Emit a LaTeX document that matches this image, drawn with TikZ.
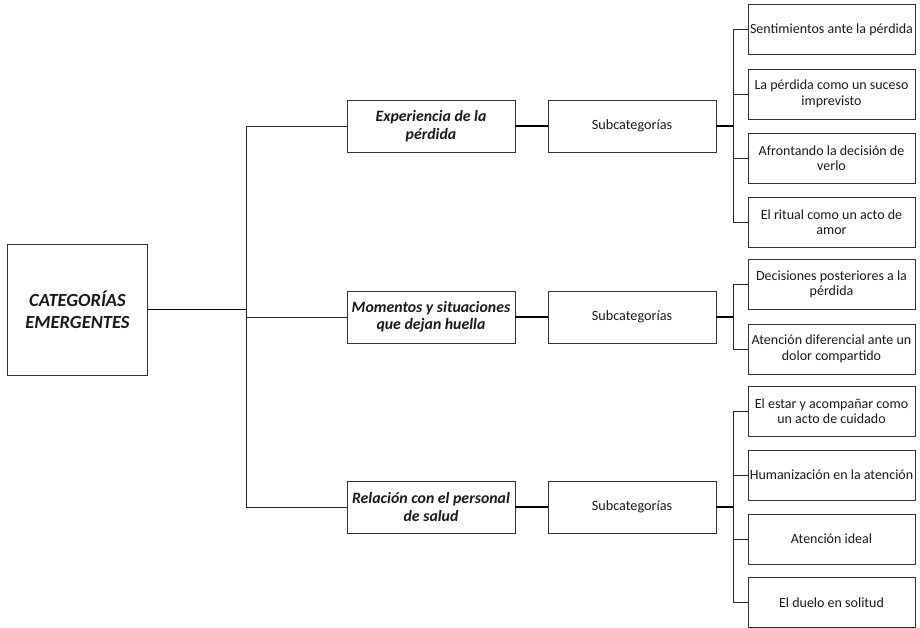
\documentclass[tikz,border=0pt]{standalone}
\usepackage{fontspec}
\setmainfont{Carlito}
\begin{document}
\begin{tikzpicture}[x=1pt,y=-1pt,
  box/.style={draw=black!80,line width=0.8pt,rectangle,inner sep=0.5pt,align=center,text=black!90},
  mainbox/.style={box,minimum width=140pt,minimum height=131pt,font=\fontsize{18.5}{22}\selectfont\bfseries\itshape},
  catbox/.style={box,minimum width=168pt,minimum height=52pt,font=\fontsize{15.8}{17.5}\selectfont\bfseries\itshape},
  subbox/.style={box,minimum width=168pt,minimum height=52pt,font=\fontsize{14.2}{17}\selectfont},
  leafbox/.style={box,minimum width=167pt,minimum height=50pt,font=\fontsize{14}{15.5}\selectfont},
  thick link/.style={draw=black,line width=1.3pt},
  thin link/.style={draw=black!85,line width=0.9pt}]
\useasboundingbox (0,0) rectangle (920,628);
\node[mainbox] (main) at (77.5,309.5) {CATEGORÍAS\\EMERGENTES};
\node[catbox] (cat1) at (431,126) {Experiencia de la\\pérdida};
\node[catbox] (cat2) at (431,317) {Momentos y situaciones\\que dejan huella};
\node[catbox] (cat3) at (431,507) {Relación con el personal\\de salud};
\node[subbox] (sub1) at (632,126) {Subcategorías};
\node[subbox] (sub2) at (632,317) {Subcategorías};
\node[subbox] (sub3) at (632,507) {Subcategorías};
\node[leafbox] (l1) at (831.5,29.5) {Sentimientos ante la pérdida};
\node[leafbox] (l2) at (831.5,94) {La pérdida como un suceso\\imprevisto};
\node[leafbox] (l3) at (831.5,158) {Afrontando la decisión de\\verlo};
\node[leafbox] (l4) at (831.5,222) {El ritual como un acto de\\amor};
\node[leafbox] (m1) at (831.5,284.5) {Decisiones posteriores a la\\pérdida};
\node[leafbox] (m2) at (831.5,349) {Atención diferencial ante un\\dolor compartido};
\node[leafbox] (r1) at (831.5,411) {El estar y acompañar como\\un acto de cuidado};
\node[leafbox] (r2) at (831.5,475) {Humanización en la atención};
\node[leafbox] (r3) at (831.5,539) {Atención ideal};
\node[leafbox] (r4) at (831.5,602.5) {El duelo en solitud};
% main trunk
\coordinate (j) at (246,309.5);
\draw[thick link] (main.east) -- (j);
\draw[thin link] (cat1.west) -| (j);
\draw[thin link] (cat3.west) -| (j);
\draw[thin link] (cat2.west) -- (cat2.west -| j);
% category to subcategory
\draw[thick link] (cat1.east) -- (sub1.west);
\draw[thick link] (cat2.east) -- (sub2.west);
\draw[thick link] (cat3.east) -- (sub3.west);
% leaves group 1
\coordinate (k1) at (733,126);
\draw[thick link] (sub1.east) -- (k1);
\draw[thin link] (l1.west) -| (k1);
\draw[thin link] (l4.west) -| (k1);
\draw[thin link] (l2.west) -- (l2.west -| k1);
\draw[thin link] (l3.west) -- (l3.west -| k1);
% leaves group 2
\coordinate (k2) at (733,317);
\draw[thick link] (sub2.east) -- (k2);
\draw[thin link] (m1.west) -| (k2);
\draw[thin link] (m2.west) -| (k2);
% leaves group 3
\coordinate (k3) at (733,507);
\draw[thick link] (sub3.east) -- (k3);
\draw[thin link] (r1.west) -| (k3);
\draw[thin link] (r4.west) -| (k3);
\draw[thin link] (r2.west) -- (r2.west -| k3);
\draw[thin link] (r3.west) -- (r3.west -| k3);
\end{tikzpicture}
\end{document}
